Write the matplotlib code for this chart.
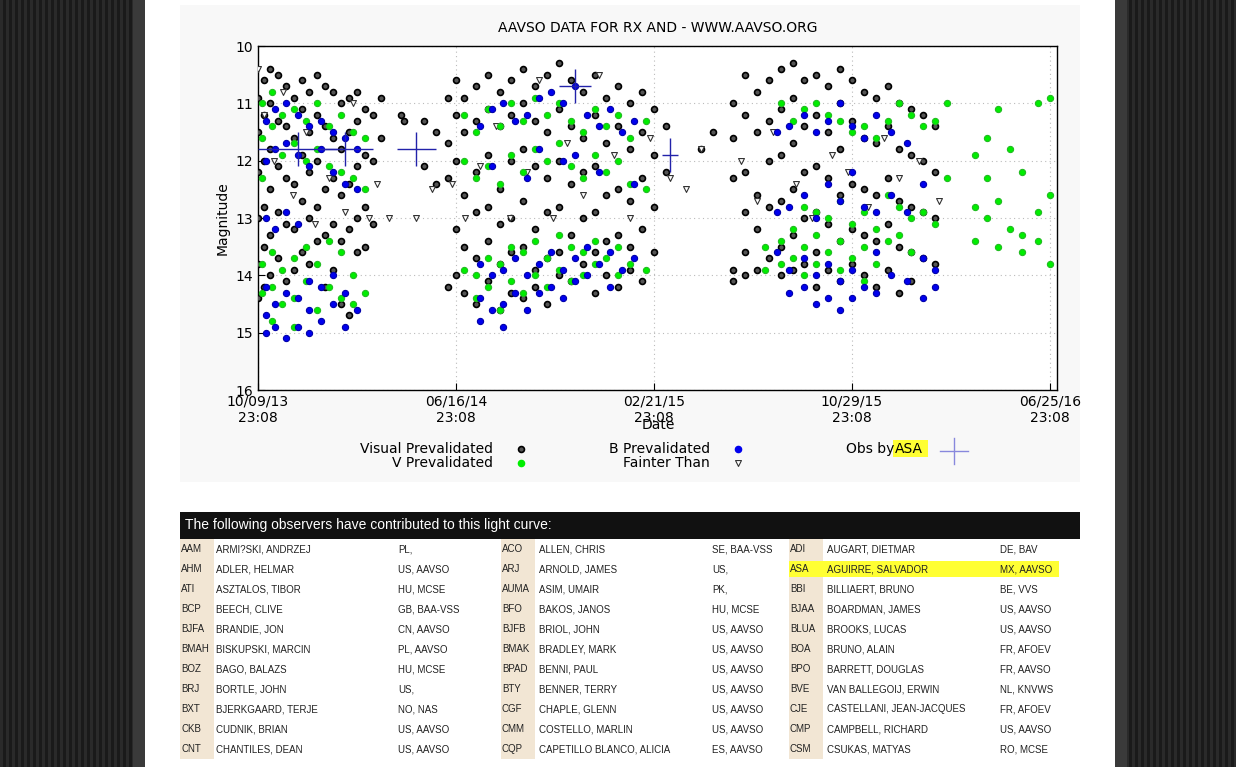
import matplotlib
matplotlib.use("Agg")
import matplotlib.pyplot as plt
from matplotlib.patches import Rectangle

# ---------------- data (day offset from 10/09/13, magnitudes) ----------------
vis_cols = [
 (0,[10.9,11.5,12.2,13.0,13.8,14.4]),(8,[10.6,11.2,12.0,12.8,13.5,14.2]),(15,[10.4,11.0,11.8,12.5,13.3,14.0]),
 (25,[10.5,11.3,12.1,12.9,13.7]),(35,[10.7,11.4,12.3,13.1,14.1]),(45,[10.9,11.6,12.4,13.2,13.9]),
 (55,[10.6,11.1,11.9,12.7,13.6]),(65,[10.8,11.5,12.2,13.0,13.8]),(75,[10.5,11.2,12.0,12.8,13.4]),
 (85,[10.7,11.4,12.5,13.3,14.2]),(95,[10.8,11.6,12.3,13.1,13.9]),(105,[11.0,11.8,12.6,13.4,14.5]),
 (115,[10.9,11.5,12.4,13.2,14.7]),(125,[10.8,11.3,12.1,13.0,13.6]),(135,[11.1,11.9,12.8,13.5]),
 (145,[11.2,12.0,13.1]),(155,[10.9,11.6]),(180,[11.2]),(185,[11.3]),(210,[11.3,12.1]),(225,[11.5,12.4]),
 (240,[10.9,11.7,12.3,14.2]),(250,[10.6,11.2,12.0,13.2,14.0]),(260,[10.9,11.5,12.6,13.5,14.3]),
 (275,[10.7,11.3,12.2,12.9,13.7,14.5]),(290,[10.5,11.1,11.9,12.8,13.4,14.1]),(305,[10.8,11.4,12.5,13.1,13.8,14.6]),
 (320,[10.6,11.2,12.0,13.0,13.6,14.3]),(335,[10.4,11.0,11.8,12.7,13.5,14.4]),(350,[10.7,11.3,12.1,13.2,13.9,14.2]),
 (365,[10.5,11.5,12.3,12.9,13.7,14.5]),(380,[10.3,11.1,12.0,12.8,13.6,14.0]),(395,[10.6,11.4,12.4,13.3,14.1]),
 (410,[10.8,11.6,12.2,13.0,13.8]),(425,[10.5,11.2,12.1,12.9,13.6,14.3]),(440,[10.9,11.7,12.6,13.4,14.0]),
 (455,[10.7,11.4,12.5,13.3,14.2]),(470,[11.0,11.8,12.7,13.5,13.9]),(485,[10.8,11.5,12.3,13.2,14.1]),
 (500,[11.1,11.9,12.8,13.6]),(515,[11.4,12.2]),(560,[11.8]),(575,[11.5]),
 (600,[11.0,11.6,12.3,13.9,14.1]),(615,[10.5,11.2,12.2,12.9,13.6,14.0]),(630,[10.8,11.5,12.6,13.2,13.9]),
 (645,[10.6,11.3,12.0,12.8,13.7]),(660,[10.4,11.1,11.9,12.7,13.5,14.0]),(675,[10.3,10.9,11.7,12.5,13.3,13.9]),
 (690,[10.6,11.4,12.2,13.0,13.8]),(705,[10.5,11.2,12.1,12.9,13.6,14.2]),(720,[10.7,11.5,12.3,13.1,13.9]),
 (735,[10.4,11.0,11.8,12.6,13.4,14.1]),(750,[10.6,11.3,12.4,13.2,13.8]),(765,[10.8,11.6,12.5,13.3,14.0]),
 (780,[10.9,11.7,12.6,13.4,14.2]),(795,[10.7,11.4,12.3,13.1,13.9]),(810,[11.0,11.8,12.7,13.5,14.3]),
 (825,[11.1,11.9,12.8,13.6,14.1]),(840,[11.2,12.0,12.9,13.7]),(855,[11.4,12.2,13.0,13.8]),
]
v_cols = [
 (5,[11.0,11.6,12.3,13.8,14.3]),(18,[10.8,11.4,13.6,14.2,14.8]),(30,[11.2,11.9,13.9,14.5]),
 (45,[11.1,11.7,13.7,14.4,14.9]),(60,[11.3,12.0,13.5,14.1]),(75,[11.0,11.8,13.8,14.6]),
 (90,[11.4,12.1,13.4,14.2]),(105,[11.2,12.2,13.6,14.4]),(120,[11.5,12.3,14.0,14.5]),(135,[11.6,12.5,14.3]),
 (260,[11.2,12.0,13.9]),(275,[11.5,12.3,14.0,14.4]),(290,[11.1,12.1,13.7,14.2]),(305,[11.4,12.4,13.8,14.6]),
 (320,[11.0,11.9,13.5,14.1]),(335,[11.3,12.2,13.6,14.3]),(350,[10.9,11.8,13.4,14.0]),(365,[11.2,12.0,13.7,14.2]),
 (380,[11.0,11.7,13.3,13.9]),(395,[11.3,12.1,13.5,14.1]),(410,[11.5,12.3,13.6,14.0]),(425,[11.1,11.9,13.4,13.8]),
 (440,[11.4,12.2,13.7]),(455,[11.2,12.0,13.5,14.0]),(470,[11.6,12.4,13.8]),(490,[11.3,12.5,13.9]),
 (640,[13.5,13.9]),(660,[11.0,13.4,13.8]),(675,[11.3,13.2,13.7]),(690,[11.1,12.8,13.5,14.0]),
 (705,[11.0,12.9,13.3,13.8]),(720,[11.2,13.0,13.6]),(735,[11.3,12.7,13.4,13.9]),(750,[11.5,13.1,13.7]),
 (765,[11.4,12.9,13.5,14.1]),(780,[11.6,13.2,13.8]),(795,[11.3,12.6,13.4]),(810,[11.0,12.8,13.3]),
 (825,[11.2,13.0,13.6]),(840,[11.4,12.9]),(855,[11.3,13.1]),(870,[11.0,12.3]),
 (905,[11.9,12.8,13.4]),(920,[11.6,12.3,13.0]),(935,[11.1,12.7,13.5]),(950,[11.8,13.2]),
 (965,[12.2,13.3,13.6]),(985,[11.0,12.9,13.4]),(1000,[10.9,12.6,13.8]),
]
b_cols = [
 (10,[11.3,12.0,13.0,14.2,14.7,15.0]),(22,[11.1,11.8,13.2,14.5,14.9]),(35,[11.0,11.7,12.9,14.3,15.1]),
 (50,[11.2,11.9,13.1,14.4,14.9]),(65,[11.4,12.1,14.1,14.6,15.0]),(80,[11.3,11.8,14.2,14.8]),
 (95,[11.5,12.2,14.0,14.5]),(110,[11.6,12.4,14.3,14.9]),(125,[11.8,12.5,14.6]),
 (280,[11.4,13.8,14.4,14.8]),(295,[11.1,12.1,14.0,14.6]),(310,[11.0,13.9,14.5,14.9]),(325,[11.3,13.7,14.3]),
 (340,[11.2,12.3,14.0,14.6]),(355,[10.9,11.8,13.8,14.3]),(370,[10.8,13.6,14.2]),(385,[11.0,12.0,13.9,14.4]),
 (400,[10.7,11.9,13.7,14.1]),(415,[11.2,13.5,14.0]),(430,[11.4,12.2,13.8]),(445,[11.1,13.6,14.2]),
 (460,[11.5,13.9]),(475,[11.3,12.4,13.7]),
 (655,[11.5,12.9,13.6]),(670,[11.4,12.8,13.9,14.3]),(690,[11.2,12.6,13.7,14.2]),(705,[11.5,13.0,14.0,14.5]),
 (720,[11.3,12.4,13.8,14.4]),(735,[11.0,12.7,14.1,14.6]),(750,[11.4,12.2,13.9,14.4]),(765,[11.6,12.8,14.2]),
 (780,[11.2,12.9,13.6,14.3]),(800,[11.5,12.6,14.0]),(820,[11.7,12.9,14.1]),(840,[12.4,13.7,14.4]),(855,[13.9,14.2]),
]
faint_d = [0,8,20,32,44,60,72,90,110,120,140,150,165,200,220,245,262,280,300,318,340,355,372,390,410,430,450,
           470,495,520,540,560,610,630,650,680,700,725,745,770,790,810,835,860]
faint_m = [10.4,11.2,12.0,10.8,12.6,11.5,13.1,12.3,12.9,11.0,13.0,12.4,13.0,13.0,12.5,12.4,13.0,12.1,11.4,13.0,
           12.2,10.6,13.0,11.7,12.6,10.5,11.9,13.0,11.6,12.3,12.5,11.8,12.0,12.7,11.5,12.4,13.0,11.9,12.2,12.8,
           11.6,12.3,12.0,12.7]
asa_d = [50,110,200,400,520]
asa_m = [11.8,11.8,11.8,10.7,11.9]
asa_err = [50,35,25,20,10]

xtick_pos = [0,250,500,750,1000]
xtick_lab = ["10/09/13\n23:08","06/16/14\n23:08","02/21/15\n23:08","10/29/15\n23:08","06/25/16\n23:08"]

obs_rows = [
 [("AAM","ARMI?SKI, ANDRZEJ","PL,"),("ACO","ALLEN, CHRIS","SE, BAA-VSS"),("ADI","AUGART, DIETMAR","DE, BAV")],
 [("AHM","ADLER, HELMAR","US, AAVSO"),("ARJ","ARNOLD, JAMES","US,"),("ASA","AGUIRRE, SALVADOR","MX, AAVSO")],
 [("ATI","ASZTALOS, TIBOR","HU, MCSE"),("AUMA","ASIM, UMAIR","PK,"),("BBI","BILLIAERT, BRUNO","BE, VVS")],
 [("BCP","BEECH, CLIVE","GB, BAA-VSS"),("BFO","BAKOS, JANOS","HU, MCSE"),("BJAA","BOARDMAN, JAMES","US, AAVSO")],
 [("BJFA","BRANDIE, JON","CN, AAVSO"),("BJFB","BRIOL, JOHN","US, AAVSO"),("BLUA","BROOKS, LUCAS","US, AAVSO")],
 [("BMAH","BISKUPSKI, MARCIN","PL, AAVSO"),("BMAK","BRADLEY, MARK","US, AAVSO"),("BOA","BRUNO, ALAIN","FR, AFOEV")],
 [("BOZ","BAGO, BALAZS","HU, MCSE"),("BPAD","BENNI, PAUL","US, AAVSO"),("BPO","BARRETT, DOUGLAS","FR, AAVSO")],
 [("BRJ","BORTLE, JOHN","US,"),("BTY","BENNER, TERRY","US, AAVSO"),("BVE","VAN BALLEGOIJ, ERWIN","NL, KNVWS")],
 [("BXT","BJERKGAARD, TERJE","NO, NAS"),("CGF","CHAPLE, GLENN","US, AAVSO"),("CJE","CASTELLANI, JEAN-JACQUES","FR, AFOEV")],
 [("CKB","CUDNIK, BRIAN","US, AAVSO"),("CMM","COSTELLO, MARLIN","US, AAVSO"),("CMP","CAMPBELL, RICHARD","US, AAVSO")],
 [("CNT","CHANTILES, DEAN","US, AAVSO"),("CQP","CAPETILLO BLANCO, ALICIA","ES, AAVSO"),("CSM","CSUKAS, MATYAS","RO, MCSE")],
]

def flat(cols):
    xs, ys = [], []
    for d, ms in cols:
        for m in ms:
            xs.append(d); ys.append(m)
    return xs, ys

W, H = 1236, 767
fig = plt.figure(figsize=(W/100, H/100), dpi=100)
fig.patch.set_facecolor("#1a1a1a")
bg = fig.add_axes([0, 0, 1, 1]); bg.set_xlim(0, W); bg.set_ylim(H, 0); bg.axis("off")
for x0 in range(0, 140, 6):
    bg.add_patch(Rectangle((x0, 0), 3, H, color="#2a2a2a", lw=0))
for x0 in range(1120, W, 6):
    bg.add_patch(Rectangle((x0, 0), 3, H, color="#2a2a2a", lw=0))
bg.add_patch(Rectangle((133, 0), 12, H, color="#3a3a3a", lw=0))
bg.add_patch(Rectangle((1115, 0), 12, H, color="#3a3a3a", lw=0))
bg.add_patch(Rectangle((145, 0), 970, H, color="white", lw=0))
bg.add_patch(Rectangle((180, 5), 900, 477, color="#f8f8f8", lw=0))

# table
bg.add_patch(Rectangle((180, 512), 900, 27, color="#111111", lw=0))
bg.text(185, 525, "The following observers have contributed to this light curve:", color="white",
        fontsize=10, va="center", family="Liberation Sans")
gx = [(180, 215, 397), (501, 538, 711), (789, 826, 999)]
for r, row in enumerate(obs_rows):
    y = 549 + 20 * r
    for g, (code, name, ctry) in enumerate(row):
        cx, nx, kx = gx[g]
        bg.add_patch(Rectangle((cx, y - 10), 34, 20, color="#f2e6d4", lw=0))
        if code == "ASA":
            bg.add_patch(Rectangle((cx, y - 8), 270, 16, color="#ffff33", lw=0))
        for xx, t in ((cx, code), (nx, name), (kx, ctry)):
            bg.text(xx + 1, y, t, fontsize=7, va="center", color="#222222", family="Liberation Sans")

ax = fig.add_axes([258/W, 1-390/H, (1057-258)/W, (390-46)/H])
ax.set_facecolor("white")
ax.set_xlim(0, 1009); ax.set_ylim(16, 10)
ax.set_xticks(xtick_pos); ax.set_xticklabels(xtick_lab, fontsize=10)
ax.set_yticks(range(10, 17)); ax.tick_params(labelsize=10, direction="in", length=5)
ax.grid(True, color="#bbbbbb", linestyle=(0, (1, 3)), lw=0.8)
for s in ax.spines.values(): s.set_linewidth(1)
vx, vy = flat(vis_cols); gxs, gys = flat(v_cols); bx, by = flat(b_cols)
ax.scatter(vx, vy, s=18, facecolors="#555555", edgecolors="black", lw=1.2, zorder=3)
ax.scatter(faint_d, faint_m, marker="v", s=18, facecolors="white", edgecolors="#333333", lw=0.8, zorder=3)
ax.scatter(gxs, gys, s=20, color="#00ee00", edgecolors="#22bb22", lw=0.8, zorder=4)
ax.scatter(bx, by, s=20, color="#0000ee", edgecolors="#0000aa", lw=0.8, zorder=5)
ax.errorbar(asa_d, asa_m, xerr=asa_err, yerr=0.3, fmt="none", ecolor="#2222aa", lw=1, zorder=6)
ax.set_title("AAVSO DATA FOR RX AND - WWW.AAVSO.ORG", fontsize=10, pad=10)
ax.set_ylabel("Magnitude", fontsize=10)
bg.text(658, 425, "Date", ha="center", va="center", fontsize=10)

# legend
fs = 10
bg.text(493, 449, "Visual Prevalidated", ha="right", va="center", fontsize=fs)
bg.text(493, 463, "V Prevalidated", ha="right", va="center", fontsize=fs)
bg.text(710, 449, "B Prevalidated", ha="right", va="center", fontsize=fs)
bg.text(710, 463, "Fainter Than", ha="right", va="center", fontsize=fs)
bg.scatter([521], [449], s=18, facecolors="#555555", edgecolors="black", lw=1.2)
bg.scatter([521], [463], s=20, color="#00ee00")
bg.scatter([738], [449], s=20, color="#0000ee")
bg.scatter([738], [463], marker="v", s=18, facecolors="white", edgecolors="#333333", lw=0.8)
bg.text(846, 449, "Obs by", va="center", fontsize=fs)
bg.add_patch(Rectangle((893, 440), 35, 17, color="#ffff33", lw=0))
bg.text(895, 449, "ASA", va="center", fontsize=fs)
bg.plot([940, 968], [451, 451], color="#8888dd", lw=1)
bg.plot([954, 954], [438, 464], color="#8888dd", lw=1)

fig.savefig("out.png", dpi=100, facecolor=fig.get_facecolor())
